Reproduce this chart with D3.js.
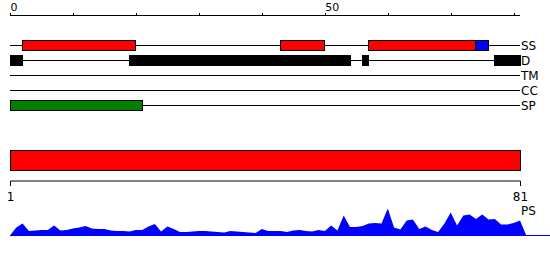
<!DOCTYPE html>
<html>
<head>
<meta charset="utf-8">
<script src="https://cdn.jsdelivr.net/npm/d3@7"></script>
<style>
  body { margin: 0; background: #fff; }
  svg { display: block; font-family: "DejaVu Sans", sans-serif; }
  .lbl { font-size: 12px; }
</style>
</head>
<body>
<div id="chart"></div>
<script>
// sequence length and track names
const seqLength = 81;
const trackNames = ["SS", "D", "TM", "CC", "SP"];

// secondary structure segments (H = helix red, E = strand blue)
const ssStart = [2, 43, 57, 74];
const ssEnd = [20, 50, 74, 76];
const ssType = ["H", "H", "H", "E"];

// disorder segments
const disStart = [0, 19, 56, 77];
const disEnd = [2, 54, 57, 81];

// signal peptide
const spStart = [0];
const spEnd = [21];

// top ruler ticks
const topTicks = [0, 10, 20, 30, 40, 50, 60, 70, 80];
const topTickLabels = [0, 50];

// per-residue PS score (0..81)
const psScores = [
  0, 8, 12, 4.5, 5, 5.5, 5.5, 10, 5, 5.5,
  7, 8, 9.5, 7, 6.5, 6.5, 5, 4.5, 4.5, 4,
  5.5, 5.5, 9, 11.5, 4, 9, 6.5, 3.5, 3.5, 4,
  4.5, 4.5, 4, 3.5, 3, 4.5, 4, 3.5, 3, 2.5,
  6.5, 4.5, 4.5, 4.5, 3.5, 5, 5.5, 4.5, 4, 5.5,
  4.5, 10, 5, 20, 8.5, 8.5, 9.5, 12, 12.5, 12,
  27, 8, 6, 15, 16, 6.5, 9, 5.5, 3.5, 12,
  23, 10, 20, 21, 16.5, 21, 16, 16.5, 11, 11,
  12.5, 15, 0
];

const width = 550, height = 260;
const svg = d3.select("#chart").append("svg")
    .attr("width", width)
    .attr("height", height);

const x = d3.scaleLinear().domain([0, seqLength]).range([10, 520]);
const yTrack = d3.scalePoint().domain(trackNames).range([45.5, 105.5]);
const boxH = 10;

// top ruler
const topAxis = svg.append("g")
    .attr("transform", "translate(0,15.5)")
    .call(d3.axisTop(x).tickValues(topTicks).tickSize(3).tickSizeOuter(0)
      .tickFormat(d => topTickLabels.includes(d) ? d : ""));
topAxis.select(".domain").attr("d", `M${x(0)},0H${x(seqLength)}`).attr("stroke", "#000");
topAxis.selectAll(".tick line").attr("stroke", "#000").attr("shape-rendering", "crispEdges");
topAxis.selectAll(".tick text")
    .attr("text-anchor", "start").attr("x", 0).attr("y", -5)
    .attr("font-size", 11).attr("font-family", "DejaVu Sans").attr("fill", "#000");

// track base lines and labels
const tracks = svg.append("g");
trackNames.forEach(name => {
  tracks.append("line")
      .attr("x1", x(0)).attr("x2", x(seqLength))
      .attr("y1", yTrack(name)).attr("y2", yTrack(name))
      .attr("stroke", "#000").attr("shape-rendering", "crispEdges");
  tracks.append("text")
      .attr("class", "lbl")
      .attr("x", x(seqLength) + 1)
      .attr("y", yTrack(name))
      .attr("dy", "0.36em")
      .text(name);
});

function segBoxes(starts, ends, track, fill) {
  svg.append("g").selectAll("rect")
    .data(starts.map((s, i) => ({ s: s, e: ends[i], i: i })))
    .join("rect")
      .attr("x", d => x(d.s))
      .attr("y", yTrack(track) - boxH / 2)
      .attr("width", d => x(d.e) - x(d.s))
      .attr("height", boxH)
      .attr("fill", d => typeof fill === "function" ? fill(d) : fill)
      .attr("stroke", "#000")
      .attr("shape-rendering", "crispEdges");
}

segBoxes(ssStart, ssEnd, "SS", d => ssType[d.i] === "H" ? "#ff0000" : "#0000ff");
segBoxes(disStart, disEnd, "D", "#000");
segBoxes(spStart, spEnd, "SP", "#008000");

// whole-sequence bar
svg.append("rect")
    .attr("x", x(0)).attr("y", 150.5)
    .attr("width", x(seqLength) - x(0)).attr("height", 20)
    .attr("fill", "#ff0000").attr("stroke", "#000")
    .attr("shape-rendering", "crispEdges");

// bottom ruler 1..81
const xRes = d3.scaleLinear().domain([1, seqLength]).range([x(0), x(seqLength)]);
const botAxis = svg.append("g")
    .attr("transform", "translate(0,180.5)")
    .call(d3.axisBottom(xRes).tickValues([1, seqLength]).tickSize(5).tickSizeOuter(0).tickPadding(7));
botAxis.select(".domain").attr("stroke", "#000");
botAxis.selectAll(".tick line").attr("stroke", "#000").attr("shape-rendering", "crispEdges");
botAxis.selectAll(".tick text")
    .attr("font-size", 12).attr("font-family", "DejaVu Sans").attr("fill", "#000");

// PS profile
const yPS = d3.scaleLinear().domain([0, 30]).range([235.5, 205.5]);
const area = d3.area()
    .x((d, i) => x(i))
    .y0(yPS(0))
    .y1(d => yPS(d));
svg.append("path")
    .datum(psScores)
    .attr("d", area)
    .attr("fill", "#0000ff");
svg.append("line")
    .attr("x1", x(0)).attr("x2", width)
    .attr("y1", yPS(0)).attr("y2", yPS(0))
    .attr("stroke", "#0000ff").attr("shape-rendering", "crispEdges");
svg.append("text")
    .attr("class", "lbl")
    .attr("x", x(seqLength) + 1)
    .attr("y", 215)
    .text("PS");
</script>
</body>
</html>
